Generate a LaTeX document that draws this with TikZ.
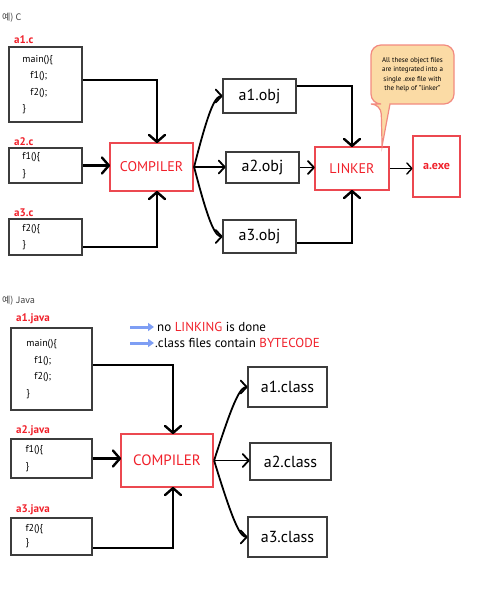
\documentclass[tikz,border=0pt]{standalone}
\usepackage{fontspec}
\setmainfont{PT Sans}
\newfontfamily\krfont{Noto Sans CJK KR}
\usetikzlibrary{arrows.meta,calc}
\definecolor{boxgray}{HTML}{3C3C3C}
\definecolor{hred}{HTML}{F0202A}
\definecolor{redborder}{HTML}{EC4850}
\definecolor{calloutfill}{HTML}{FBDBA5}
\definecolor{calloutborder}{HTML}{F28A80}
\definecolor{legblue}{HTML}{7E9EF4}
\tikzset{
  srcbox/.style={draw=boxgray, line width=2.6pt, inner sep=0pt, align=left, font=\fontsize{10}{16.5}\selectfont},
  objbox/.style={draw=boxgray, line width=2.6pt, inner sep=0pt, font=\fontsize{16}{18}\selectfont},
  redbox/.style={draw=redborder, line width=2.2pt, inner sep=0pt, text=hred, font=\fontsize{14}{16}\selectfont},
  flabel/.style={anchor=west, inner sep=0pt, text=hred, font=\bfseries\fontsize{11}{12}\selectfont},
  title/.style={anchor=west, inner sep=0pt, text=black!75, font=\krfont\fontsize{9}{10}\selectfont},
  arr/.style={line width=2.4pt},
  thinarr/.style={line width=1.8pt},
  exearr/.style={line width=1.4pt},
  bigtip/.style={draw=black, line width=2.4pt, line cap=round, line join=round},
  thintip/.style={draw=black, line width=1.8pt, line cap=round, line join=round},
  callout/.style={draw=calloutborder, fill=calloutfill, line width=1.2pt},
  legarr/.style={draw=legblue, line width=3pt, -{Triangle[length=6pt,width=8pt]}},
  legtext/.style={anchor=west, inner sep=0pt, font=\fontsize{13}{14}\selectfont}
}
% chevron heads drawn as open polylines at a named point (y axis points down)
\newcommand\chevdown[1]{\draw[bigtip] ($(#1)+(-8,-7)$) -- (#1) -- ($(#1)+(8,-7)$);}
\newcommand\chevup[1]{\draw[bigtip] ($(#1)+(-8,7)$) -- (#1) -- ($(#1)+(8,7)$);}
\newcommand\chevright[1]{\draw[bigtip] ($(#1)+(-7,-8)$) -- (#1) -- ($(#1)+(-7,8)$);}
\newcommand\thinright[1]{\draw[thintip] ($(#1)+(-6,-6.5)$) -- (#1) -- ($(#1)+(-6,6.5)$);}
\begin{document}
\begin{tikzpicture}[x=1pt,y=-1pt]
\useasboundingbox (0,0) rectangle (490,592);

% ---------------- C ----------------
\node[title] (tc) at (2,18) {예) C};

\node[flabel] (la1c) at (14,40) {a1.c};
\node[srcbox, minimum width=73pt, minimum height=75pt, text width=46pt] (a1c) at (45.5,84.5)
  {main()\{\\\hspace*{8pt}f1();\\\hspace*{8pt}f2();\\\}};
\node[flabel] (la2c) at (14,142) {a2.c};
\node[srcbox, minimum width=73pt, minimum height=35pt, text width=46pt] (a2c) at (45.5,165.5)
  {f1()\{\\\}};
\node[flabel] (la3c) at (14,213) {a3.c};
\node[srcbox, minimum width=73pt, minimum height=36pt, text width=46pt] (a3c) at (45.5,237)
  {f2()\{\\\}};

\node[redbox, minimum width=83pt, minimum height=48pt] (compc) at (151.5,167) {COMPILER};

\node[objbox, minimum width=73pt, minimum height=34pt] (o1) at (259.5,96) {a1.obj};
\node[objbox, minimum width=73pt, minimum height=31pt] (o2) at (262.5,167.5) {a2.obj};
\node[objbox, minimum width=73pt, minimum height=33pt] (o3) at (259.5,236.5) {a3.obj};

\node[redbox, minimum width=74pt, minimum height=43pt] (link) at (352,168.5) {LINKER};
\node[redbox, minimum width=47pt, minimum height=61pt, font=\bfseries\fontsize{12}{14}\selectfont] (exe) at (436.5,166.5) {a.exe};

% callout
\coordinate (tip) at ($(link.north east)+(-8pt,0)$);
\draw[callout] (390,104) [rounded corners=10pt] -- (454,104) -- (454,45) -- (371,45) -- (371,104) -- (381,104) [sharp corners] -- (tip) -- cycle;
\node[inner sep=0pt, align=center, font=\fontsize{7}{9.5}\selectfont] (ctext) at (412.5,74.5)
  {All these object files\\are integrated into a\\single .exe file with\\the help of ''linker''};

% arrows C
\coordinate (cin1) at ([xshift=5.5pt]compc.north);
\coordinate (cin2) at (a2c.east -| compc.west);
\coordinate (cin3) at ([xshift=5.5pt]compc.south);
\draw[arr] ([yshift=4.5pt]a1c.east) -| (cin1);
\draw[arr] (a2c.east) -- (cin2);
\draw[arr] ([yshift=-10pt]a3c.east) -| (cin3);
\chevdown{cin1}
\chevright{cin2}
\chevup{cin3}
\draw[thinarr] (compc.east) .. controls ($(o1.west)+(-12,9)$) and ($(o1.west)+(-6,0)$) .. (o1.west);
\coordinate (oin2) at (compc.east -| o2.west);
\draw[thinarr] (compc.east) -- (oin2);
\draw[thinarr] (compc.east) .. controls ($(o3.west)+(-12,-9)$) and ($(o3.west)+(-6,0)$) .. (o3.west);
\thinright{o1.west}
\thinright{oin2}
\thinright{o3.west}
\coordinate (lin2) at (o2.east -| link.west);
\draw[arr] ([yshift=10pt]o1.east) -| (link.north);
\draw[thinarr] (o2.east) -- (lin2);
\draw[arr] ([yshift=-6.5pt]o3.east) -| (link.south);
\chevdown{link.north}
\thinright{lin2}
\chevup{link.south}
\coordinate (ein) at (link.east -| exe.west);
\draw[exearr] (link.east) -- (ein);
\draw[exearr, line cap=round, line join=round] ($(ein)+(-5,-5.5)$) -- (ein) -- ($(ein)+(-5,5.5)$);

% ---------------- Java ----------------
\node[title] (tj) at (2,301) {예) Java};

\node[legtext] (leg1) at (157,327) {no \textcolor{hred}{LINKING} is done};
\node[legtext] (leg2) at (155,343) {.class files contain \textcolor{hred}{BYTECODE}};
\coordinate (l1s) at (130,327);
\coordinate (l2s) at (130,343);
\draw[legarr] (l1s) -- ([xshift=-3pt]leg1.west);
\draw[legarr] (l2s) -- ([xshift=-1pt]leg2.west);

\node[flabel] (la1j) at (16,319) {a1.java};
\node[srcbox, minimum width=81pt, minimum height=82pt, text width=50pt] (a1j) at (51.5,369)
  {main()\{\\\hspace*{8pt}f1();\\\hspace*{8pt}f2();\\\}};
\node[flabel] (la2j) at (16,431) {a2.java};
\node[srcbox, minimum width=81pt, minimum height=39pt, text width=52pt] (a2j) at (51.5,458.5)
  {f1()\{\\\}};
\node[flabel] (la3j) at (16,510) {a3.java};
\node[srcbox, minimum width=81pt, minimum height=37pt, text width=52pt, font=\fontsize{10}{14}\selectfont] (a3j) at (51.5,536.5)
  {f2()\{\\\}};

\node[redbox, minimum width=92pt, minimum height=53pt, font=\fontsize{15}{17}\selectfont] (compj) at (167,460.5) {COMPILER};

\node[objbox, minimum width=79pt, minimum height=40pt] (c1) at (287.5,387) {a1.class};
\node[objbox, minimum width=81pt, minimum height=37pt] (c2) at (290.5,461.5) {a2.class};
\node[objbox, minimum width=79pt, minimum height=40pt] (c3) at (287.5,537) {a3.class};

\coordinate (jin1) at ([xshift=6pt]compj.north);
\coordinate (jin2) at (a2j.east -| compj.west);
\coordinate (jin3) at ([xshift=6pt]compj.south);
\draw[arr] ([yshift=4pt]a1j.east) -| (jin1);
\draw[arr] (a2j.east) -- (jin2);
\draw[arr] ([yshift=-11.5pt]a3j.east) -| (jin3);
\chevdown{jin1}
\chevright{jin2}
\chevup{jin3}
\coordinate (kin2) at (compj.east -| c2.west);
\draw[thinarr] (compj.east) .. controls ($(c1.west)+(-12,9)$) and ($(c1.west)+(-6,0)$) .. (c1.west);
\draw[thinarr] (compj.east) -- (kin2);
\draw[thinarr] (compj.east) .. controls ($(c3.west)+(-12,-9)$) and ($(c3.west)+(-6,0)$) .. (c3.west);
\thinright{c1.west}
\thinright{kin2}
\thinright{c3.west}
\end{tikzpicture}
\end{document}
